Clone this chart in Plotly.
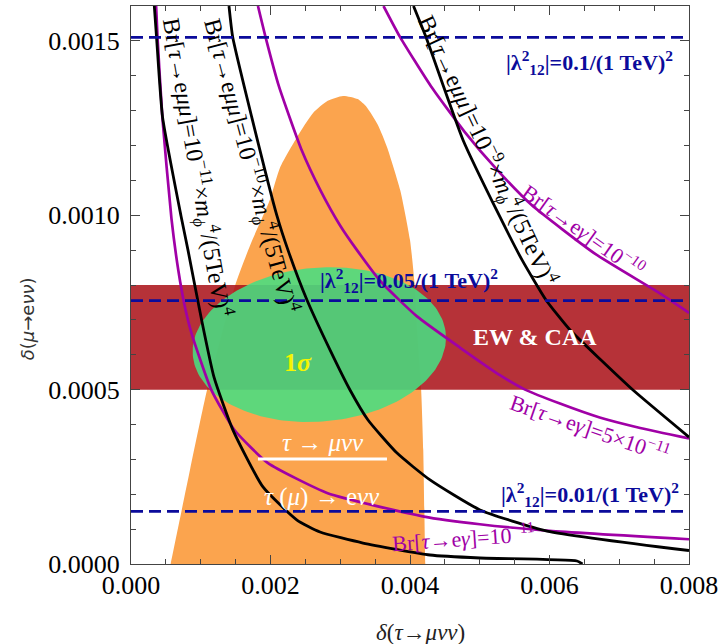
import numpy as np
import plotly.graph_objects as go

# ---------------- data ----------------
# Br[tau -> e mu mu] contours (black)
A_x = [0.000334, 0.000366, 0.000452, 0.000717, 0.000817, 0.001004, 0.00119, 0.001462,
       0.001892, 0.00238, 0.00271, 0.003326, 0.004287, 0.005004, 0.006394, 0.006473]
A_y = [0.0016, 0.001511, 0.001282, 0.000998, 0.0009, 0.000708, 0.000536, 0.000384,
       0.000221, 0.000126, 0.0000918, 0.0000602, 0.0000258, 0.0000172, 0.0000086, 0.0]
B_x = [0.001405, 0.001458, 0.00173, 0.002093, 0.002251, 0.002523, 0.002853, 0.00314,
       0.003398, 0.003814, 0.004287, 0.005004, 0.005964, 0.008]
B_y = [0.0016, 0.001511, 0.001282, 0.000998, 0.0009, 0.000757, 0.000614, 0.000499,
       0.000413, 0.000318, 0.000241, 0.000155, 0.0000946, 0.0000387]
C_x = [0.00405, 0.004229, 0.00476, 0.00529, 0.005606, 0.00595, 0.006294, 0.006738,
       0.007197, 0.008]
C_y = [0.0016, 0.001511, 0.001216, 0.000995, 0.000872, 0.000757, 0.000671, 0.000585,
       0.000499, 0.000364]

# Br[tau -> e gamma] contours (purple)
P1_x = [0.00036, 0.00038, 0.00045, 0.00058, 0.00068, 0.00077, 0.00087, 0.00115, 0.00148,
        0.00196, 0.00282, 0.0042, 0.0050, 0.0060, 0.0080]
P1_y = [0.0016, 0.00151, 0.00128, 0.00099, 0.00084, 0.00074, 0.00066, 0.0005, 0.000385,
        0.00029, 0.000203, 0.000136, 0.000114, 0.000095, 0.000071]
P2_x = [0.00182, 0.00193, 0.00212, 0.00244, 0.00272, 0.00300, 0.00324, 0.00358, 0.00410,
        0.00472, 0.00530, 0.00565, 0.00615, 0.00672, 0.00730, 0.0080]
P2_y = [0.0016, 0.00151, 0.00137, 0.00119, 0.00107, 0.00097, 0.00090, 0.00081, 0.00071,
        0.00062, 0.00054, 0.00050, 0.00046, 0.00042, 0.00039, 0.00036]
P3_x = [0.00362, 0.00386, 0.00430, 0.00478, 0.00525, 0.00574, 0.00665, 0.00755, 0.0080]
P3_y = [0.0016, 0.00151, 0.00137, 0.00124, 0.00113, 0.00103, 0.00089, 0.00078, 0.00072]

# tau -> mu nu nu / tau(mu) -> e nu nu allowed region (orange)
O_x = [0.000518, 0.000569, 0.000846, 0.00109, 0.00128, 0.00149, 0.00171, 0.00199, 0.00214,
       0.00238, 0.00261, 0.00282, 0.00304, 0.00325, 0.00338, 0.00354, 0.00367, 0.00386,
       0.00400, 0.00406, 0.00411, 0.00416, 0.00419, 0.00422, 0.00423]
O_y = [-0.00005, 0.0, 0.00027, 0.000499, 0.000642, 0.000797, 0.000915, 0.001044, 0.001138,
       0.001224, 0.001293, 0.001328, 0.001342, 0.001333, 0.00131, 0.001259, 0.001196,
       0.001072, 0.000929, 0.000814, 0.000642, 0.000499, 0.000327, 0.0, -0.00005]

# EW & CAA band
band_y = [0.0005, 0.0008]
# 1 sigma ellipse: centre, half widths, correlation
ell_cx, ell_cy = 0.0027, 0.000629
ell_ax, ell_by, ell_rho = 0.001816, 0.000222, 0.088
# |lambda_12|^2 dashed lines
lam2_labels = ["0.1", "0.05", "0.01"]
lam2_y = [0.00151, 0.000755, 0.000151]
# white separator line
sep_x = [0.00182, 0.00367]
sep_y = [0.000301, 0.000301]

x_ticks = [0.0, 0.002, 0.004, 0.006, 0.008]
y_ticks = [0.0, 0.0005, 0.0010, 0.0015]

# ---------------- styles ----------------
ORANGE = "#FBA44E"
RED = "rgba(172,22,28,0.88)"
GREEN = "rgba(72,222,130,0.88)"
PURPLE = "#A000A6"
BLUE = "#0B0B9B"
SERIF = "Liberation Serif"

fig = go.Figure()

fig.add_trace(go.Scatter(x=O_x, y=O_y, mode="lines", fill="toself", fillcolor=ORANGE,
                         line=dict(width=0, shape="spline", smoothing=0.6), hoverinfo="skip"))
fig.add_trace(go.Scatter(x=[0, 0.008, 0.008, 0], y=[band_y[0], band_y[0], band_y[1], band_y[1]],
                         mode="lines", fill="toself", fillcolor=RED, line=dict(width=0),
                         hoverinfo="skip"))
t = np.linspace(0, 2 * np.pi, 200)
ex = ell_cx + ell_ax * np.cos(t)
ey = ell_cy + ell_by * (ell_rho * np.cos(t) + np.sqrt(1 - ell_rho ** 2) * np.sin(t))
fig.add_trace(go.Scatter(x=ex, y=ey, mode="lines", fill="toself", fillcolor=GREEN,
                         line=dict(width=0), hoverinfo="skip"))

for xs, ys in [(P1_x, P1_y), (P2_x, P2_y), (P3_x, P3_y)]:
    fig.add_trace(go.Scatter(x=xs, y=ys, mode="lines",
                             line=dict(color=PURPLE, width=2.7, shape="spline", smoothing=0.5)))
for xs, ys in [(A_x, A_y), (B_x, B_y), (C_x, C_y)]:
    fig.add_trace(go.Scatter(x=xs, y=ys, mode="lines",
                             line=dict(color="black", width=2.8, shape="spline", smoothing=0.5)))
for yv in lam2_y:
    fig.add_trace(go.Scatter(x=[0, 0.008], y=[yv, yv], mode="lines",
                             line=dict(color=BLUE, width=2.8, dash="12px,6px")))
fig.add_trace(go.Scatter(x=sep_x, y=sep_y, mode="lines", line=dict(color="white", width=3)))

ann = []
def A(x, y, text, size, color, angle=0, bold=False, family=SERIF):
    ann.append(dict(x=x, y=y, xref="x", yref="y", text=(f"<b>{text}</b>" if bold else text),
                    showarrow=False, textangle=angle, xanchor="center", yanchor="middle",
                    font=dict(family=family, size=size, color=color)))

lam_pos = [(0.00657, 0.001439), (0.003986, 0.000814), (0.00658, 0.000198)]
for (lx, ly), lab in zip(lam_pos, lam2_labels):
    A(lx, ly, f"|λ<sup>2</sup><sub>12</sub>|={lab}/(1 TeV)<sup>2</sup>", 22, BLUE, bold=True)

A(0.005792, 0.000651, "EW &amp; CAA", 24, "white", bold=True)
A(0.002394, 0.000579, "1<i>σ</i>", 26, "#F5F500", bold=True)
A(0.002753, 0.000347, "<i>τ</i> → <i>μνν</i>", 25, "white")
A(0.002738, 0.000192, "<i>τ</i> (<i>μ</i>) → e<i>νν</i>", 25, "white")

br = "Br[<i>τ</i>→e<i>μμ</i>]=10<sup>−{}</sup>×<i>m</i><sub><i>ϕ</i></sub><sup>4</sup>/(5TeV)<sup>4</sup>"
A(0.000946, 0.001135, br.format("11"), 24, "black", angle=80)
A(0.00172, 0.001141, br.format("10"), 24, "black", angle=75)
A(0.005104, 0.001187, br.format("9"), 24, "black", angle=65)

A(0.006495, 0.000958, "Br[<i>τ</i>→e<i>γ</i>]=10<sup>−10</sup>", 22, PURPLE, angle=35.5)
A(0.00658, 0.000393, "Br[<i>τ</i>→e<i>γ</i>]=5×10<sup>−11</sup>", 22, PURPLE, angle=19)
A(0.00476, 0.0000774, "Br[<i>τ</i>→e<i>γ</i>]=10<sup>−11</sup>", 22, PURPLE, angle=-4)

# axis titles
ann.append(dict(x=0.518, y=-0.122, xref="paper", yref="paper", showarrow=False,
                text="<i>δ</i>(<i>τ</i>→<i>μνν</i>)", xanchor="center", yanchor="middle",
                font=dict(family=SERIF, size=23, color="#222")))
ann.append(dict(x=-0.185, y=0.44, xref="paper", yref="paper", showarrow=False, textangle=-90,
                text="<i>δ</i>(<i>μ</i>→e<i>νν</i>)", xanchor="center", yanchor="middle",
                font=dict(family="DejaVu Sans", size=18, color="#333")))

axis_common = dict(showgrid=False, zeroline=False, showline=True, linecolor="#444",
                   linewidth=1, mirror="ticks", ticks="inside", ticklen=9, tickwidth=1,
                   tickcolor="#444", automargin=False,
                   tickfont=dict(family=SERIF, size=26, color="black"))
fig.update_layout(
    width=720, height=644, margin=dict(l=131, r=31, t=6, b=80),
    plot_bgcolor="white", paper_bgcolor="white", showlegend=False,
    annotations=ann,
    xaxis=dict(range=[0, 0.008], tickvals=x_ticks, ticktext=[f"{v:.3f}" for v in x_ticks],
               minor=dict(dtick=0.0005, tick0=0, ticks="inside", ticklen=5, tickcolor="#444"),
               ticklabelstandoff=-2, **axis_common),
    yaxis=dict(range=[0, 0.0016], tickvals=y_ticks, ticktext=[f"{v:.4f}" for v in y_ticks],
               minor=dict(dtick=0.0001, tick0=0, ticks="inside", ticklen=5, tickcolor="#444"),
               ticklabelstandoff=5, **axis_common),
)
fig.write_html("out.html", post_script="document.body.style.margin='0px';",
               config={"displayModeBar": False})
